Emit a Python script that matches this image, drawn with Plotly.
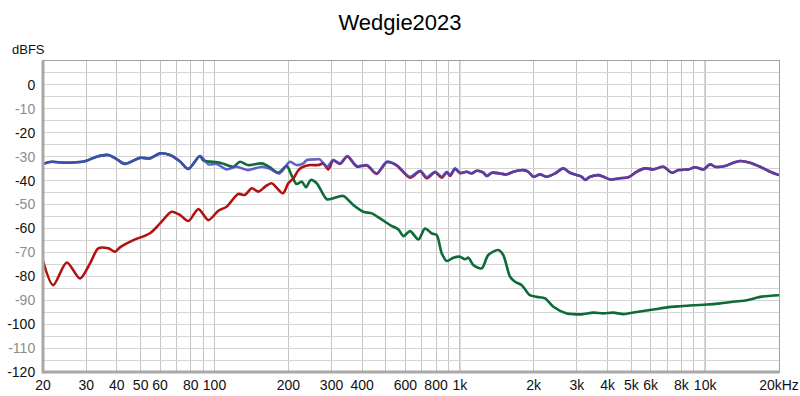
import plotly.graph_objects as go
import math

# ---- data (Hz, dBFS) ----
blue_f = [20, 21.7, 24.2, 28.3, 30.1, 33.1, 36.9, 39.9, 43.2, 49.7, 54.6, 60.0, 65.9, 72.4, 78.2,
          87.3, 94.4, 102, 112, 123, 137, 156, 168, 184, 203, 216, 230, 238, 261, 269, 287, 305,
          325, 348, 380, 418, 458, 504, 553, 627, 689, 733, 793, 844, 885, 912, 957, 1002, 1067,
          1119, 1172, 1248, 1288, 1350, 1459, 1552, 1652, 1816, 1902, 1995, 2124, 2260, 2444,
          2642, 2812, 2998, 3140, 3244, 3396, 3672, 3846, 4096, 4500, 4864, 5260, 5688, 6152,
          6760, 7312, 7780, 8552, 9100, 9840, 10470, 10980, 12050, 13030, 13880, 15240, 16750,
          18400, 20000]
blue_db = [-33, -32.1, -32.5, -32.2, -31.7, -30, -29.3, -31, -33, -30.5, -30.7, -28.6, -29.3, -32,
           -35.1, -29.7, -33.2, -33, -35.3, -34.2, -35.6, -34.2, -35.1, -37, -32.1, -33.5, -32.8,
           -31.4, -31.1, -31.1, -34.2, -31.4, -32.8, -29.7, -33.9, -33.5, -37, -32.1, -33.5, -38.4,
           -35.9, -38.6, -36.3, -38.4, -36.3, -37.7, -34.9, -36.7, -36.3, -37, -35.9, -36.7, -38.1,
           -36.7, -37, -37.4, -36.3, -35.6, -36.3, -38.4, -37.4, -38.4, -37, -34.9, -36.7, -37.7,
           -38.4, -39.7, -38.4, -37.7, -38.4, -39.5, -39, -38.6, -36.3, -34.9, -35.3, -34.2, -36.7,
           -35.6, -35.3, -34.4, -35.3, -33.2, -34.2, -33.9, -32.5, -31.8, -32.5, -34.2, -36.3, -37.7]

red_f = [20, 22.0, 25.0, 28.3, 31.1, 33.6, 36.9, 39.3, 41.2, 46.7, 54.6, 60.0, 66.9, 72.4, 78.2,
         86, 94.4, 103.7, 112, 125, 133, 142, 151, 161, 171, 190, 200, 210, 220, 230, 245, 265,
         278, 291, 305, 325, 348, 380, 418, 458, 504, 553, 627, 689, 733, 793, 844, 885, 912, 957,
         1002, 1067, 1119, 1172, 1248, 1288, 1350, 1459, 1552, 1652, 1816, 1902, 1995, 2124, 2260,
         2444, 2642, 2812, 2998, 3140, 3244, 3396, 3672, 3846, 4096, 4500, 4864, 5260, 5688, 6152,
         6760, 7312, 7780, 8552, 9100, 9840, 10470, 10980, 12050, 13030, 13880, 15240, 16750,
         18400, 20000]
red_db = [-73.5, -83.7, -74.2, -80.9, -74.6, -68.3, -68.3, -69.7, -67.9, -64.9, -62, -57.9, -53,
          -54.4, -56.9, -51.9, -56.5, -52.6, -50.9, -45.6, -46, -43.2, -44.6, -42.5, -41.1, -45.3,
          -41.1, -39, -35.6, -34.2, -33.5, -33.5, -32.8, -35.3, -31.6, -33.0, -29.9, -34.1, -33.7,
          -37.2, -32.3, -33.7, -38.8, -36.1, -39.0, -36.5, -38.8, -36.5, -38.0, -35.1, -36.9, -36.3,
          -37, -35.9, -36.7, -38.1, -36.7, -37, -37.4, -36.3, -35.6, -36.3, -38.4, -37.4, -38.4, -37,
          -34.9, -36.7, -37.7, -38.4, -39.7, -38.4, -37.7, -38.4, -39.5, -39, -38.6, -36.3, -34.9,
          -35.3, -34.2, -36.7, -35.6, -35.3, -34.4, -35.3, -33.2, -34.2, -33.9, -32.5, -31.8, -32.5,
          -34.2, -36.3, -37.7]

green_f = [20, 21.7, 24.2, 28.3, 30.1, 33.1, 36.9, 39.9, 43.2, 49.7, 54.6, 60.0, 65.9, 72.4, 78.2,
           87.3, 90, 105.4, 119.4, 127, 137, 156, 168, 182, 197, 206, 216, 227, 236, 247, 261, 287,
           305, 335, 368, 404, 438, 473, 520, 562, 589, 627, 678, 721, 769, 805, 844, 885, 941,
           1002, 1050, 1084, 1135, 1228, 1306, 1435, 1503, 1603, 1679, 1788, 1932, 2061, 2226,
           2406, 2729, 2904, 3140, 3500, 3846, 4226, 4646, 5260, 6152, 6978, 7908, 8954, 10160,
           11510, 13030, 14790, 16750, 20000]
green_db = [-33, -32.1, -32.5, -32.2, -31.7, -30, -29.3, -31, -33, -30.5, -30.7, -28.6, -29.3, -32,
            -35.1, -29.7, -31.5, -32.5, -34.2, -32.1, -33.5, -32.8, -34.4, -36.7, -33.9, -37.7,
            -41.4, -40.5, -42.8, -39.7, -41.1, -47.8, -47.4, -46.4, -50.2, -53, -53.7, -55.8, -58.6,
            -60.4, -63.2, -61.1, -64.6, -60, -62.1, -62.8, -70.4, -73.6, -72.2, -71.8, -72.9, -72.2,
            -75.3, -76.7, -71.1, -69, -71.1, -80.2, -82.3, -83.7, -87.9, -88.6, -89.2, -92.7, -95.5,
            -95.8, -95.9, -95.2, -95.5, -95.2, -95.8, -94.9, -93.9, -93, -92.5, -92.1, -91.8, -91.3,
            -90.6, -90, -88.6, -87.9]

x_tick_vals = [20, 30, 40, 50, 60, 80, 100, 200, 300, 400, 600, 800, 1000, 2000, 3000, 4000,
               5000, 6000, 8000, 10000, 20000]
x_tick_text = ["20", "30", "40", "50", "60", "80", "100", "200", "300", "400", "600", "800", "1k",
               "2k", "3k", "4k", "5k", "6k", "8k", "10k", "20kHz"]
y_tick_vals = [0, -10, -20, -30, -40, -50, -60, -70, -80, -90, -100, -110, -120]

# ---- figure ----
fig = go.Figure()
fig.add_trace(go.Scatter(x=green_f, y=green_db, mode="lines",
                         line=dict(color="#0d6b38", width=2.6, shape="spline", smoothing=0.8)))
fig.add_trace(go.Scatter(x=red_f, y=red_db, mode="lines",
                         line=dict(color="#b01212", width=2.6, shape="spline", smoothing=0.8)))
fig.add_trace(go.Scatter(x=blue_f, y=blue_db, mode="lines", opacity=0.85,
                         line=dict(color="#4848c4", width=2.6, shape="spline", smoothing=0.8)))

# minor grid positions
minor_x = []
for dec in [10, 100, 1000, 10000]:
    for m in range(1, 10):
        v = dec * m
        if 20 <= v <= 20000:
            minor_x.append(v)
minor_y = list(range(-120, 11, 5))

y_text = []
for v in y_tick_vals:
    if v % 20 == 0:
        y_text.append(str(v))
    else:
        y_text.append('<span style="color:#8c8c8c">%d</span>' % v)

fig.update_layout(
    width=800, height=396,
    margin=dict(l=43, r=21, t=61, b=24, autoexpand=False),
    paper_bgcolor="white", plot_bgcolor="white",
    showlegend=False,
    font=dict(family="Liberation Sans, Arial, sans-serif", size=14, color="#111"),
    title=dict(text="Wedgie2023", x=0.5, xanchor="center", y=1 - 22 / 396, yanchor="middle",
               font=dict(size=22, color="#000")),
)
fig.update_xaxes(
    type="log", range=[math.log10(20), math.log10(20000)], automargin=False,
    tickvals=x_tick_vals, ticktext=x_tick_text, ticks="", showgrid=False,
    zeroline=False, showline=True, linecolor="#a0a0a0", linewidth=1, mirror=True,
    minor=dict(tickvals=minor_x, showgrid=True, gridcolor="#c4c4c4", gridwidth=1, ticks=""),
    tickfont=dict(size=14, color="#111"),
)
fig.update_yaxes(
    range=[-120, 10], tickvals=y_tick_vals, ticktext=y_text, ticks="", showgrid=False,
    automargin=False,
    zeroline=False, showline=True, linecolor="#a0a0a0", linewidth=1, mirror=True,
    minor=dict(tickvals=minor_y, showgrid=True, gridcolor="#d4d4d4", gridwidth=1, ticks=""),
    tickfont=dict(size=14, color="#111"), ticklabelstandoff=4,
)

shapes = []
for v in [100, 1000, 10000]:
    shapes.append(dict(type="line", xref="x", yref="paper", x0=v, x1=v, y0=0, y1=1,
                       line=dict(color="#8a8a8a", width=1), layer="below"))
shapes.append(dict(type="line", xref="paper", yref="paper", x0=0, x1=0, y0=-0.005, y1=1,
                   line=dict(color="#a8a8a8", width=3)))
shapes.append(dict(type="line", xref="paper", yref="paper", x0=0, x1=1, y0=0, y1=0,
                   line=dict(color="#a8a8a8", width=3)))
fig.update_layout(shapes=shapes)

fig.add_annotation(text="dBFS", xref="paper", yref="paper", x=(10 - 43) / 736, y=(372 - 50) / 311,
                   xanchor="left", yanchor="middle", showarrow=False,
                   font=dict(size=13, color="#111"))

fig.write_html("out.html", config={"displayModeBar": False},
               post_script="document.body.style.margin='0';document.body.style.overflow='hidden';")
